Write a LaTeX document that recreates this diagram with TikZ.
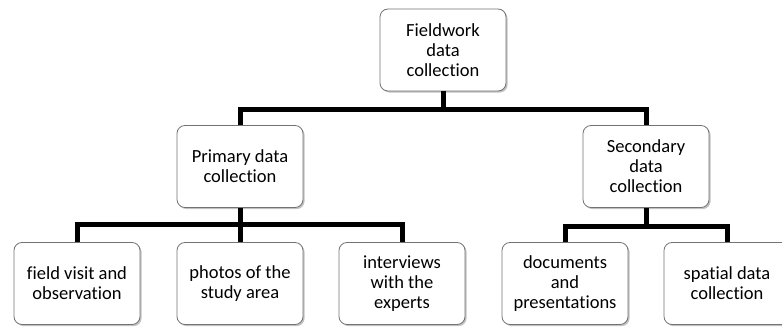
\documentclass[tikz,border=0pt]{standalone}
\usepackage{fontspec}
\setmainfont[Ligatures=NoCommon]{Carlito}
\usepackage{tikz}
\usetikzlibrary{shadows}

\begin{document}
\begin{tikzpicture}[x=1pt,y=1pt,
  box/.style={draw=black!55,line width=0.8pt,fill=white,rounded corners=8pt,
    minimum width=126pt,minimum height=82pt,align=center,inner sep=2pt,
    font=\fontsize{18.5}{20}\selectfont,
    drop shadow={shadow xshift=1.6pt,shadow yshift=-1.6pt,fill=black!40,opacity=0.6}},
  link/.style={line width=5pt,black}]
  \useasboundingbox (0,0) rectangle (782,327);
  \node[box] (field) at (443,277) {Fieldwork\\data\\collection};
  \node[box] (primary) at (240,160.5) {Primary data\\collection};
  \node[box] (secondary) at (646,160.5) {Secondary\\data\\collection};
  \node[box] (visit) at (77,43.5) {field visit and\\observation};
  \node[box] (photos) at (240,43.5) {photos of the\\study area};
  \node[box] (experts) at (402,43.5) {interviews\\with the\\experts};
  \node[box] (docs) at (565,43.5) {documents\\and\\presentations};
  \node[box] (spatial) at (727,43.5) {spatial data\\collection};
  % buses
  \coordinate (top) at (443,217);
  \coordinate (left) at (240,102);
  \coordinate (right) at (646,100);
  \draw[link] (field.south) -- (top);
  \draw[link] (primary.north) |- (top) -| (secondary.north);
  \draw[link] (primary.south) -- (left);
  \draw[link] (visit.north) |- (left) -| (experts.north);
  \draw[link] (left) -- (photos.north);
  \draw[link] (secondary.south) -- (right);
  \draw[link] (docs.north) |- (right) -| (spatial.north);
\end{tikzpicture}
\end{document}
